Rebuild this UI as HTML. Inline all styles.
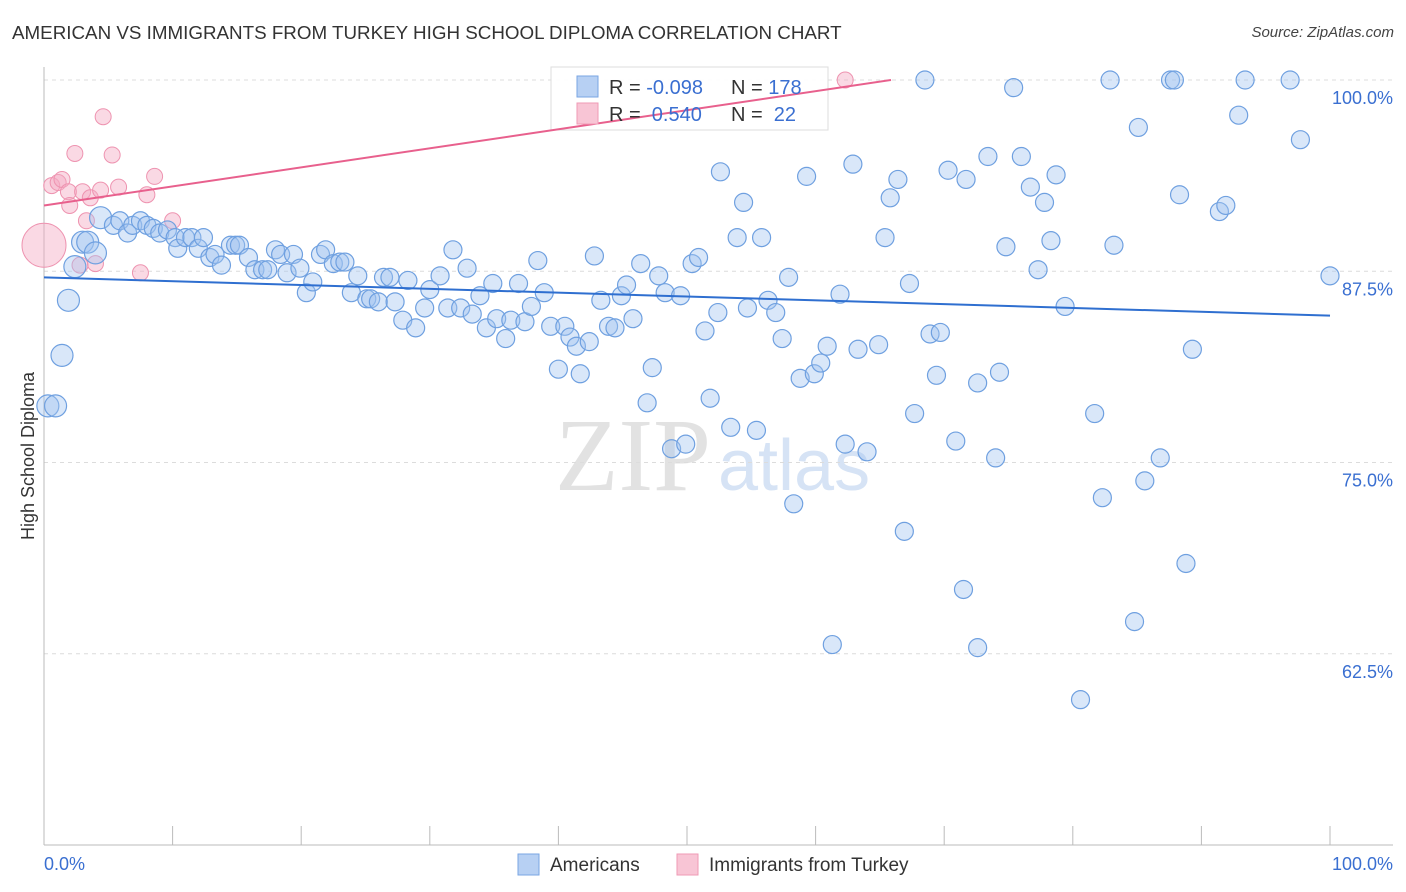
<!DOCTYPE html>
<html><head><meta charset="utf-8">
<style>
body{margin:0;background:#fff;font-family:"Liberation Sans",sans-serif;}
#wrap{position:relative;width:1406px;height:892px;overflow:hidden;}
.t{position:absolute;white-space:nowrap;}
</style></head>
<body>
<div id="wrap">
<div class="t" style="left:12px;top:22px;font-size:18.8px;color:#333;">AMERICAN VS IMMIGRANTS FROM TURKEY HIGH SCHOOL DIPLOMA CORRELATION CHART</div>
<div class="t" style="right:12px;top:24px;font-size:15px;color:#444;font-style:italic;">Source: ZipAtlas.com</div>
<svg id="chart" width="1406" height="892" style="position:absolute;left:0;top:0"></svg>
</div>
<script>
const blueX=[0.3,0.9,1.4,1.9,2.4,3.0,3.4,4.0,4.4,5.4,5.9,6.5,6.9,7.5,8.0,8.5,9.0,9.6,10.2,10.4,11.0,11.5,12.0,12.4,12.9,13.3,13.8,14.5,14.9,15.2,15.9,16.4,17.0,17.4,18.0,18.4,18.9,19.4,19.9,20.4,20.9,21.5,21.9,22.5,23.0,23.4,23.9,24.4,25.1,25.4,26.0,26.4,26.9,27.3,27.9,28.3,28.9,29.6,30.0,30.8,31.4,31.8,32.4,32.9,33.3,33.9,34.4,34.9,35.2,35.9,36.3,36.9,37.4,37.9,38.4,38.9,39.4,40.0,40.5,40.9,41.4,41.7,42.4,42.8,43.3,43.9,44.4,44.9,45.3,45.8,46.4,46.9,47.3,47.8,48.3,48.8,49.5,49.9,50.4,50.9,51.4,51.8,52.4,52.6,53.4,53.9,54.4,54.7,55.4,55.8,56.3,56.9,57.4,57.9,58.3,58.8,59.3,59.9,60.4,60.9,61.3,61.9,62.3,62.9,63.3,64.0,64.9,65.4,65.8,66.4,66.9,67.3,67.7,68.5,68.9,69.4,69.7,70.3,70.9,71.5,71.7,72.6,72.6,73.4,74.0,74.3,74.8,75.4,76.0,76.7,77.3,77.8,78.3,78.7,79.4,80.6,81.7,82.3,82.9,83.2,84.8,85.1,85.6,86.8,87.6,87.9,88.3,88.8,89.3,91.4,91.9,92.9,93.4,96.9,97.7,100];
const blueY=[78.7,78.7,82.0,85.6,87.8,89.4,89.4,88.7,91.0,90.5,90.8,90.0,90.5,90.8,90.5,90.3,90.0,90.2,89.7,89.0,89.7,89.7,89.0,89.7,88.4,88.6,87.9,89.2,89.2,89.2,88.4,87.6,87.6,87.6,88.9,88.6,87.4,88.6,87.7,86.1,86.8,88.6,88.9,88.0,88.1,88.1,86.1,87.2,85.7,85.7,85.5,87.1,87.1,85.5,84.3,86.9,83.8,85.1,86.3,87.2,85.1,88.9,85.1,87.7,84.7,85.9,83.8,86.7,84.4,83.1,84.3,86.7,84.2,85.2,88.2,86.1,83.9,81.1,83.9,83.2,82.6,80.8,82.9,88.5,85.6,83.9,83.8,85.9,86.6,84.4,88.0,78.9,81.2,87.2,86.1,75.9,85.9,76.2,88.0,88.4,83.6,79.2,84.8,94.0,77.3,89.7,92.0,85.1,77.1,89.7,85.6,84.8,83.1,87.1,72.3,80.5,93.7,80.8,81.5,82.6,63.1,86.0,76.2,94.5,82.4,75.7,82.7,89.7,92.3,93.5,70.5,86.7,78.2,100,83.4,80.7,83.5,94.1,76.4,66.7,93.5,80.2,62.9,95.0,75.3,80.9,89.1,99.5,95.0,93.0,87.6,92.0,89.5,93.8,85.2,59.5,78.2,72.7,100,89.2,64.6,96.9,73.8,75.3,100,100,92.5,68.4,82.4,91.4,91.8,97.7,100,100,96.1,87.2];
const pinkX=[0,0.6,1.1,1.4,1.9,2.0,2.4,3.0,3.3,3.6,4.0,4.4,4.6,5.3,5.8,7.5,8.0,8.6,10.0,62.3,2.8];
const pinkY=[89.2,93.1,93.3,93.5,92.7,91.8,95.2,92.7,90.8,92.3,88.0,92.8,97.6,95.1,93.0,87.4,92.5,93.7,90.8,100,87.9];
const blueTrend=[87.1,84.6];
const pinkTrend=[91.8,104.25];
const yTicks=[100,87.5,75,62.5];
const yTickLabels=["100.0%","87.5%","75.0%","62.5%"];

const X=v=>44+v*12.86;
const Y=v=>80+(100-v)*15.3;
const svg=document.getElementById('chart');
const NS='http://www.w3.org/2000/svg';
function mk(tag,attrs){const e=document.createElementNS(NS,tag);for(const k in attrs)e.setAttribute(k,attrs[k]);svg.appendChild(e);return e;}

let wm=mk('text',{x:555,y:490,'font-family':'Liberation Serif, serif','font-size':104,fill:'#e2e2e2'});wm.textContent='ZIP';


let wm2=mk('text',{x:718,y:490,'font-family':'Liberation Sans, sans-serif','font-size':72,fill:'#d6e3f5'});wm2.textContent='atlas';



yTicks.forEach((t,i)=>{
 const g=mk('line',{x1:44,x2:1393,y1:Y(t),y2:Y(t),stroke:'#dcdcdc','stroke-dasharray':'4,4'});
 
 
 const l=mk('text',{x:1393,y:Y(t)+24,'text-anchor':'end','font-size':18,fill:'#3a6fd1','font-family':'Liberation Sans, sans-serif'});
 l.textContent=yTickLabels[i];
 
 
});
let ax=mk('line',{x1:44,x2:1393,y1:845,y2:845,stroke:'#bbb'});


let ay=mk('line',{x1:44,x2:44,y1:67,y2:845,stroke:'#bbb'});


for(let i=1;i<=10;i++){
 const tk=mk('line',{x1:X(i*10),x2:X(i*10),y1:826,y2:845,stroke:'#bbb'});
 
 
}
let xl0=mk('text',{x:44,y:870,'font-size':18,fill:'#3a6fd1','font-family':'Liberation Sans, sans-serif'});xl0.textContent='0.0%';


let xl1=mk('text',{x:1393,y:870,'text-anchor':'end','font-size':18,fill:'#3a6fd1','font-family':'Liberation Sans, sans-serif'});xl1.textContent='100.0%';


let yt=mk('text',{x:34,y:456,'text-anchor':'middle','font-size':18,fill:'#333',transform:'rotate(-90 34 456)','font-family':'Liberation Sans, sans-serif'});yt.textContent='High School Diploma';



pinkX.forEach((x,i)=>{
 const c=mk('circle',{cx:X(x),cy:Y(pinkY[i]),r:i===0?22:8,fill:'rgba(245,170,195,0.45)',stroke:'#ee93b0','stroke-width':1});
 
 
});
blueX.forEach((x,i)=>{
 const c=mk('circle',{cx:X(x),cy:Y(blueY[i]),r:x<5?11:9,fill:'rgba(160,195,240,0.4)',stroke:'#6fa0e0','stroke-width':1.2});
 
 
});
let bl=mk('line',{x1:X(0),y1:Y(blueTrend[0]),x2:X(100),y2:Y(blueTrend[1]),stroke:'#2f6fd0','stroke-width':2});


const pEnd=(100-pinkTrend[0])/(pinkTrend[1]-pinkTrend[0])*100;

let lb=mk('rect',{x:551,y:67,width:277,height:63,fill:'rgba(255,255,255,0.9)',stroke:'#ddd'});


let pl=mk('line',{x1:X(0),y1:Y(pinkTrend[0]),x2:X(pEnd),y2:Y(100),stroke:'#e8608d','stroke-width':2});


function leg(y,fill,stroke,r,n,name){
 const s=mk('rect',{x:577,y:y-10,width:21,height:21,fill:fill,stroke:stroke});
 
 
 const t=mk('text',{x:609,y:y+8,'font-size':20,fill:'#333','font-family':'Liberation Sans, sans-serif'});
 t.innerHTML='R = <tspan fill="#3a6fd1">'+r+'</tspan><tspan x="731">N = </tspan><tspan fill="#3a6fd1">'+n+'</tspan>';
 
 
}
leg(86,'#b7d0f3','#7aa6e3','-0.098','178','legend-americans');
leg(113,'#f8c5d5','#ef9ab5','&#160;0.540','&#160;22','legend-turkey');

function bleg(x,fill,stroke,label,name){
 const s=mk('rect',{x:x,y:854,width:21,height:21,fill:fill,stroke:stroke});
 
 
 const t=mk('text',{x:x+32,y:871,'font-size':19,fill:'#333','font-family':'Liberation Sans, sans-serif'});t.textContent=label;
 
 
}
bleg(518,'#b7d0f3','#7aa6e3','Americans','bottom-legend-americans');
bleg(677,'#f8c5d5','#ef9ab5','Immigrants from Turkey','bottom-legend-turkey');
</script>
</body></html>
